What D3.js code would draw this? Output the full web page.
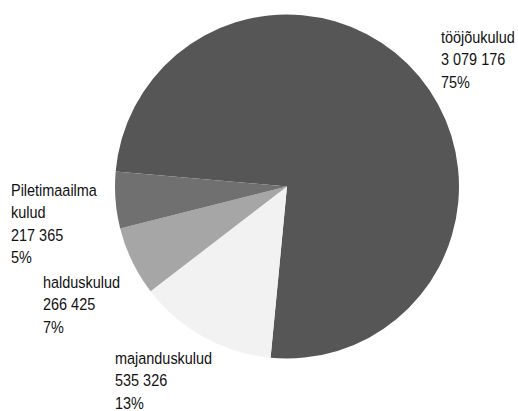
<!DOCTYPE html>
<html>
<head>
<meta charset="utf-8">
<script src="https://cdn.jsdelivr.net/npm/d3@7"></script>
<style>
  body { margin: 0; background: #fff; }
  svg text { font-family: "Liberation Sans", Arial, sans-serif; font-size: 17px; fill: #111; }
</style>
</head>
<body>
<div id="chart"></div>
<script>
// Data
var categories = ["tööjõukulud", "majanduskulud", "halduskulud", "Piletimaailma kulud"];
var values     = [3079176, 535326, 266425, 217365];
var colors     = ["#565656", "#f2f2f2", "#a6a6a6", "#707070"];

// label lines per category (name may wrap)
var nameLines  = [["tööjõukulud"], ["majanduskulud"], ["halduskulud"], ["Piletimaailma", "kulud"]];
// label anchor (left x, baseline of first line)
var labelPos   = [[441, 43], [115, 364], [43, 288], [11, 196]];

var width = 518, height = 411;
var cx = 287, cy = 186.5, radius = 172;
var lineH = 22.5;
var squeeze = 0.85;   // condensed look

var svg = d3.select("#chart").append("svg")
    .attr("width", width)
    .attr("height", height);

var g = svg.append("g")
    .attr("transform", "translate(" + cx + "," + cy + ")");

var pie = d3.pie()
    .sort(null)
    .startAngle(-85 * Math.PI / 180)
    .endAngle(-85 * Math.PI / 180 + 2 * Math.PI);

var arc = d3.arc().innerRadius(0).outerRadius(radius);

g.selectAll("path")
    .data(pie(values))
    .enter().append("path")
    .attr("d", arc)
    .attr("fill", function (d, i) { return colors[i]; });

var total = d3.sum(values);
var fmt = d3.formatLocale({decimal: ",", thousands: " ", grouping: [3], currency: ["", ""]}).format(",d");

var labels = svg.selectAll("g.lbl")
    .data(values)
    .enter().append("g")
    .attr("class", "lbl")
    .attr("transform", function (d, i) {
        return "translate(" + labelPos[i][0] + "," + labelPos[i][1] + ") scale(" + squeeze + ",1)";
    })
    .append("text");

labels.each(function (d, i) {
    var t = d3.select(this);
    var lines = nameLines[i].concat([fmt(d), Math.round(d / total * 100) + "%"]);
    lines.forEach(function (s, k) {
        t.append("tspan")
            .attr("x", 0)
            .attr("dy", k === 0 ? 0 : lineH)
            .text(s);
    });
});
</script>
</body>
</html>
